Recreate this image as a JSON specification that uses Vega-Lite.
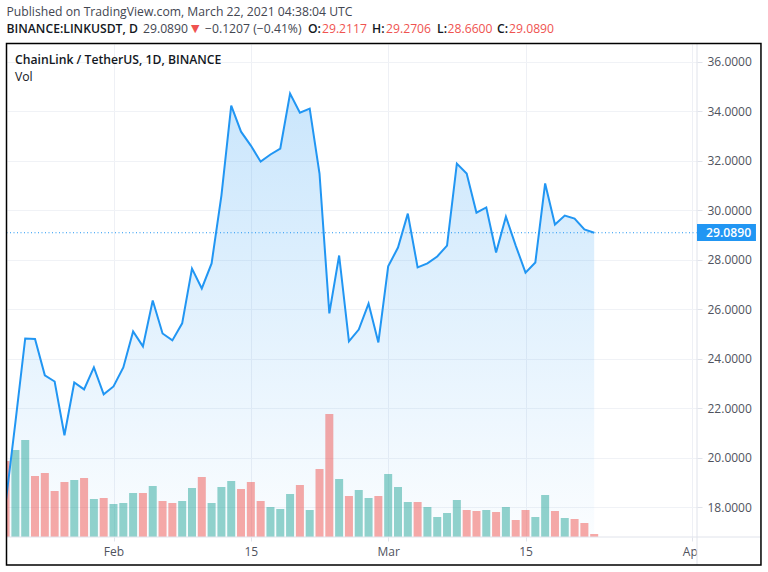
{"$schema":"https://vega.github.io/schema/vega-lite/v6.json","width":690,"height":493,"autosize":"none","padding":{"left":7,"top":44,"right":71,"bottom":35},"background":"white","view":{"stroke":null},"config":{"text":{"font":"Open Sans","fontSize":12.2,"align":"left","baseline":"middle","clip":false}},
"datasets":{"ohlc":[
{"date":"2021-01-21","price":18.16,"volume":19.0,"dir":"down"},{"date":"2021-01-22","price":21.43,"volume":21.75,"dir":"up"},{"date":"2021-01-23","price":24.82,"volume":24.25,"dir":"up"},{"date":"2021-01-24","price":24.80,"volume":15.25,"dir":"down"},{"date":"2021-01-25","price":23.33,"volume":16.0,"dir":"down"},{"date":"2021-01-26","price":23.08,"volume":11.5,"dir":"down"},{"date":"2021-01-27","price":20.91,"volume":13.75,"dir":"down"},{"date":"2021-01-28","price":23.04,"volume":14.25,"dir":"up"},{"date":"2021-01-29","price":22.76,"volume":14.75,"dir":"down"},{"date":"2021-01-30","price":23.65,"volume":9.5,"dir":"up"},{"date":"2021-01-31","price":22.56,"volume":9.75,"dir":"down"},
{"date":"2021-02-01","price":22.88,"volume":8.25,"dir":"up"},{"date":"2021-02-02","price":23.65,"volume":8.5,"dir":"up"},{"date":"2021-02-03","price":25.10,"volume":11.0,"dir":"up"},{"date":"2021-02-04","price":24.50,"volume":11.0,"dir":"down"},{"date":"2021-02-05","price":26.35,"volume":12.75,"dir":"up"},{"date":"2021-02-06","price":25.02,"volume":9.0,"dir":"down"},{"date":"2021-02-07","price":24.74,"volume":8.5,"dir":"down"},{"date":"2021-02-08","price":25.43,"volume":9.0,"dir":"up"},{"date":"2021-02-09","price":27.64,"volume":12.25,"dir":"up"},{"date":"2021-02-10","price":26.84,"volume":15.0,"dir":"down"},{"date":"2021-02-11","price":27.85,"volume":8.5,"dir":"up"},{"date":"2021-02-12","price":30.59,"volume":12.5,"dir":"up"},{"date":"2021-02-13","price":34.22,"volume":14.0,"dir":"up"},{"date":"2021-02-14","price":33.17,"volume":12.0,"dir":"down"},{"date":"2021-02-15","price":32.61,"volume":13.75,"dir":"down"},{"date":"2021-02-16","price":31.96,"volume":9.0,"dir":"down"},{"date":"2021-02-17","price":32.25,"volume":7.5,"dir":"up"},{"date":"2021-02-18","price":32.49,"volume":7.0,"dir":"up"},{"date":"2021-02-19","price":34.71,"volume":10.75,"dir":"up"},{"date":"2021-02-20","price":33.94,"volume":13.0,"dir":"down"},{"date":"2021-02-21","price":34.10,"volume":6.75,"dir":"up"},{"date":"2021-02-22","price":31.48,"volume":17.0,"dir":"down"},{"date":"2021-02-23","price":25.83,"volume":30.75,"dir":"down"},{"date":"2021-02-24","price":28.17,"volume":14.5,"dir":"up"},{"date":"2021-02-25","price":24.70,"volume":10.25,"dir":"down"},{"date":"2021-02-26","price":25.18,"volume":11.75,"dir":"up"},{"date":"2021-02-27","price":26.23,"volume":9.75,"dir":"up"},{"date":"2021-02-28","price":24.66,"volume":10.25,"dir":"down"},
{"date":"2021-03-01","price":27.73,"volume":15.75,"dir":"up"},{"date":"2021-03-02","price":28.49,"volume":12.5,"dir":"up"},{"date":"2021-03-03","price":29.86,"volume":8.75,"dir":"up"},{"date":"2021-03-04","price":27.69,"volume":8.75,"dir":"down"},{"date":"2021-03-05","price":27.85,"volume":7.5,"dir":"up"},{"date":"2021-03-06","price":28.13,"volume":5.0,"dir":"up"},{"date":"2021-03-07","price":28.57,"volume":6.0,"dir":"up"},{"date":"2021-03-08","price":31.88,"volume":9.25,"dir":"up"},{"date":"2021-03-09","price":31.48,"volume":6.75,"dir":"down"},{"date":"2021-03-10","price":29.90,"volume":6.5,"dir":"down"},{"date":"2021-03-11","price":30.11,"volume":6.75,"dir":"up"},{"date":"2021-03-12","price":28.29,"volume":6.25,"dir":"down"},{"date":"2021-03-13","price":29.74,"volume":7.5,"dir":"up"},{"date":"2021-03-14","price":28.57,"volume":4.25,"dir":"down"},{"date":"2021-03-15","price":27.48,"volume":6.75,"dir":"down"},{"date":"2021-03-16","price":27.89,"volume":5.0,"dir":"up"},{"date":"2021-03-17","price":31.08,"volume":10.5,"dir":"up"},{"date":"2021-03-18","price":29.42,"volume":6.5,"dir":"down"},{"date":"2021-03-19","price":29.78,"volume":4.75,"dir":"up"},{"date":"2021-03-20","price":29.66,"volume":4.5,"dir":"down"},{"date":"2021-03-21","price":29.22,"volume":3.5,"dir":"down"},{"date":"2021-03-22","price":29.089,"volume":0.75,"dir":"down"}]},
"resolve":{"scale":{"y":"independent"}},
"layer":[
{"data":{"name":"ohlc"},"mark":{"type":"area","clip":true,"line":false,"fill":{"gradient":"linear","x1":0,"y1":0,"x2":0,"y2":1,"stops":[{"offset":0,"color":"rgba(33,150,243,0.24)"},{"offset":1,"color":"rgba(33,150,243,0.02)"}]}},
"encoding":{"x":{"field":"date","type":"temporal","scale":{"type":"utc","nice":false,"padding":0,"domain":[{"year":2021,"month":1,"date":21,"hours":3,"minutes":27,"utc":true},{"year":2021,"month":4,"date":1,"hours":11,"minutes":31,"utc":true}]},
"axis":{"title":null,"domain":false,"grid":true,"gridColor":"#eef0f5","tickColor":"#e0e3eb","tickSize":4,"labelFont":"Open Sans","labelFontSize":12,"labelColor":"#50535e","labelPadding":5,"labelFlush":false,"labelOverlap":false,"labelBound":false,
"values":[{"year":2021,"month":2,"date":1,"utc":true},{"year":2021,"month":2,"date":15,"utc":true},{"year":2021,"month":3,"date":1,"utc":true},{"year":2021,"month":3,"date":15,"utc":true},{"year":2021,"month":4,"date":1,"utc":true}],
"labelExpr":"utcdate(datum.value)==1 ? utcFormat(datum.value,'%b') : utcFormat(datum.value,'%-d')"}},
"y":{"field":"price","type":"quantitative","scale":{"domain":[16.8,36.712],"nice":false,"zero":false},
"axis":{"title":null,"orient":"right","domain":false,"grid":true,"gridColor":"#f0f2f6","tickColor":"#e0e3eb","tickSize":5,"labelFont":"Open Sans","labelFontSize":12,"labelColor":"#50535e","labelPadding":5,"format":".4f","labelBound":false,"labelFlush":false,"labelOverlap":false,"values":[18,20,22,24,26,28,30,32,34,36]}},
"y2":{"datum":16.8}}},
{"data":{"name":"ohlc"},"mark":{"type":"bar","clip":true,"size":8,"opacity":0.5},
"encoding":{"x":{"field":"date","type":"temporal"},
"y":{"field":"volume","type":"quantitative","scale":{"domain":[0,123.25],"nice":false},"axis":null},
"color":{"field":"dir","type":"nominal","legend":null,"scale":{"domain":["down","up"],"range":["#ef5350","#26a69a"]}}}},
{"data":{"values":[{"one":1}]},"layer":[
{"data":{"name":"ohlc"},"mark":{"type":"line","clip":true,"color":"#2196f3","strokeWidth":2,"strokeJoin":"miter"},
"encoding":{"x":{"field":"date","type":"temporal"},"y":{"field":"price","type":"quantitative","scale":{"domain":[16.8,36.712],"nice":false,"zero":false},"axis":null}}},
{"mark":{"type":"rule","color":"#2196f3","strokeWidth":1,"strokeDash":[1,2.5]},"encoding":{"y":{"datum":29.089,"type":"quantitative"}}},
{"mark":{"type":"rect","fill":"white","stroke":null,"clip":false},"encoding":{"x":{"datum":{"year":2021,"month":4,"date":1,"hours":12,"utc":true},"type":"temporal"},"x2":{"datum":{"year":2021,"month":4,"date":8,"utc":true}},"y":{"datum":16.76,"type":"quantitative"},"y2":{"datum":15.7}}},
{"mark":{"type":"rule","color":"#e0e3eb","strokeWidth":1,"clip":false},"encoding":{"x":{"datum":{"year":2021,"month":1,"date":21,"hours":2,"minutes":14,"utc":true},"type":"temporal"},"x2":{"datum":{"year":2021,"month":4,"date":8,"utc":true}},"y":{"datum":16.8,"type":"quantitative"}}},
{"mark":{"type":"rule","color":"#e0e3eb","strokeWidth":1,"clip":false},"encoding":{"x":{"datum":{"year":2021,"month":4,"date":1,"hours":11,"minutes":31,"utc":true},"type":"temporal"},"y":{"datum":36.73,"type":"quantitative"},"y2":{"datum":15.67}}},
{"mark":{"type":"rect","fill":"#2196f3","clip":false},"encoding":{"x":{"datum":{"year":2021,"month":4,"date":1,"hours":11,"minutes":31,"utc":true},"type":"temporal"},"x2":{"datum":{"year":2021,"month":4,"date":7,"hours":11,"minutes":46,"utc":true}},"y":{"datum":29.44,"type":"quantitative"},"y2":{"datum":28.755}}},
{"mark":{"type":"text","text":"29.0890","color":"white","fontWeight":600},"encoding":{"x":{"datum":{"year":2021,"month":4,"date":2,"hours":9,"minutes":36,"utc":true},"type":"temporal"},"y":{"datum":29.089,"type":"quantitative"}}},
{"mark":{"type":"rect","fill":"transparent","stroke":"black","strokeWidth":1.5,"clip":false},"encoding":{"x":{"datum":{"year":2021,"month":1,"date":21,"hours":2,"minutes":14,"utc":true},"type":"temporal"},"x2":{"datum":{"year":2021,"month":4,"date":8,"utc":true}},"y":{"datum":36.73,"type":"quantitative"},"y2":{"datum":15.67}}},
{"mark":{"type":"text","text":"Published on TradingView.com, March 22, 2021 04:38:04 UTC","color":"#434651"},"encoding":{"x":{"datum":{"year":2021,"month":1,"date":21,"hours":2,"minutes":14,"utc":true},"type":"temporal"},"y":{"datum":38.0,"type":"quantitative"}}},
{"mark":{"type":"text","text":"BINANCE:LINKUSDT, D","color":"#131722","fontWeight":600},"encoding":{"x":{"datum":{"year":2021,"month":1,"date":21,"hours":2,"minutes":14,"utc":true},"type":"temporal"},"y":{"datum":37.32,"type":"quantitative"}}},
{"mark":{"type":"text","text":"29.0890","color":"#434651"},"encoding":{"x":{"datum":{"year":2021,"month":2,"date":4,"hours":0,"minutes":10,"utc":true},"type":"temporal"},"y":{"datum":37.32,"type":"quantitative"}}},
{"mark":{"type":"text","text":"▼","color":"#ef5350","font":"DejaVu Sans","fontSize":11},"encoding":{"x":{"datum":{"year":2021,"month":2,"date":8,"hours":21,"minutes":36,"utc":true},"type":"temporal"},"y":{"datum":37.32,"type":"quantitative"}}},
{"mark":{"type":"text","text":"−0.1207 (−0.41%)","color":"#434651"},"encoding":{"x":{"datum":{"year":2021,"month":2,"date":10,"hours":7,"minutes":51,"utc":true},"type":"temporal"},"y":{"datum":37.32,"type":"quantitative"}}},
{"mark":{"type":"text","text":"O:","color":"#131722","fontWeight":600},"encoding":{"x":{"datum":{"year":2021,"month":2,"date":20,"hours":19,"minutes":55,"utc":true},"type":"temporal"},"y":{"datum":37.32,"type":"quantitative"}}},
{"mark":{"type":"text","text":"29.2117","color":"#ef5350"},"encoding":{"x":{"datum":{"year":2021,"month":2,"date":22,"hours":6,"utc":true},"type":"temporal"},"y":{"datum":37.32,"type":"quantitative"}}},
{"mark":{"type":"text","text":"H:","color":"#131722","fontWeight":600},"encoding":{"x":{"datum":{"year":2021,"month":2,"date":27,"hours":8,"minutes":24,"utc":true},"type":"temporal"},"y":{"datum":37.32,"type":"quantitative"}}},
{"mark":{"type":"text","text":"29.2706","color":"#ef5350"},"encoding":{"x":{"datum":{"year":2021,"month":2,"date":28,"hours":18,"minutes":43,"utc":true},"type":"temporal"},"y":{"datum":37.32,"type":"quantitative"}}},
{"mark":{"type":"text","text":"L:","color":"#131722","fontWeight":600},"encoding":{"x":{"datum":{"year":2021,"month":3,"date":5,"hours":23,"minutes":31,"utc":true},"type":"temporal"},"y":{"datum":37.32,"type":"quantitative"}}},
{"mark":{"type":"text","text":"28.6600","color":"#ef5350"},"encoding":{"x":{"datum":{"year":2021,"month":3,"date":7,"hours":1,"minutes":12,"utc":true},"type":"temporal"},"y":{"datum":37.32,"type":"quantitative"}}},
{"mark":{"type":"text","text":"C:","color":"#131722","fontWeight":600},"encoding":{"x":{"datum":{"year":2021,"month":3,"date":12,"hours":2,"minutes":10,"utc":true},"type":"temporal"},"y":{"datum":37.32,"type":"quantitative"}}},
{"mark":{"type":"text","text":"29.0890","color":"#ef5350"},"encoding":{"x":{"datum":{"year":2021,"month":3,"date":13,"hours":7,"minutes":41,"utc":true},"type":"temporal"},"y":{"datum":37.32,"type":"quantitative"}}},
{"mark":{"type":"text","text":"ChainLink / TetherUS, 1D, BINANCE","color":"#131722","fontWeight":600},"encoding":{"x":{"datum":{"year":2021,"month":1,"date":21,"hours":23,"minutes":2,"utc":true},"type":"temporal"},"y":{"datum":36.07,"type":"quantitative"}}},
{"mark":{"type":"text","text":"Vol","color":"#131722"},"encoding":{"x":{"datum":{"year":2021,"month":1,"date":21,"hours":23,"minutes":2,"utc":true},"type":"temporal"},"y":{"datum":35.38,"type":"quantitative"}}}
]}
]}
